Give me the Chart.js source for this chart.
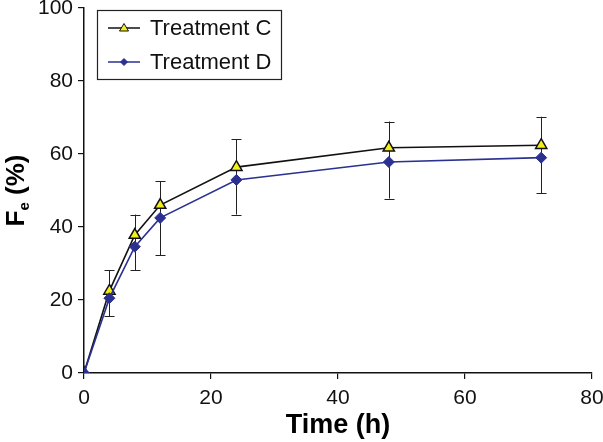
<!DOCTYPE html>
<html>
<head>
<meta charset="utf-8">
<script src="https://cdn.jsdelivr.net/npm/chart.js@4"></script>
<style>
  html, body { margin: 0; padding: 0; background: #fff; }
  #wrap { position: relative; width: 603px; height: 442px; }
</style>
</head>
<body>
<div id="wrap"><canvas id="chart" width="603" height="442"></canvas></div>
<script>
// sampling times (h)
const times = [0, 4, 8, 12, 24, 48, 72];
// Fe (%) per treatment
const treatmentC = [0, 22.5, 37.8, 46.0, 56.4, 61.7, 62.4];
const treatmentD = [0, 20.5, 34.6, 42.5, 52.9, 57.8, 59.0];
// error bars: upward for C, downward for D
const errC = [0, 5.7, 5.6, 6.5, 7.6, 7.2, 7.8];
const errD = [0, 4.9, 6.4, 10.3, 9.5, 10.0, 9.8];
const xTicks = [0, 20, 40, 60, 80];
const yTicks = [0, 20, 40, 60, 80, 100];

const navy = '#2b3190';
const FONT = 'Arial, "Liberation Sans", sans-serif';

const errorBars = {
  id: 'errorBars',
  beforeDatasetsDraw(chart) {
    const { ctx, scales: { x, y } } = chart;
    ctx.save();
    ctx.strokeStyle = '#222';
    ctx.lineWidth = 1;
    times.forEach((t, i) => {
      if (!errC[i] && !errD[i]) return;
      const px = Math.round(x.getPixelForValue(t)) + 0.5;
      const top = y.getPixelForValue(treatmentC[i] + errC[i]);
      const bot = y.getPixelForValue(treatmentD[i] - errD[i]);
      ctx.beginPath();
      ctx.moveTo(px, top); ctx.lineTo(px, bot);
      ctx.moveTo(px - 5, Math.round(top) + 0.5); ctx.lineTo(px + 5, Math.round(top) + 0.5);
      ctx.moveTo(px - 5, Math.round(bot) + 0.5); ctx.lineTo(px + 5, Math.round(bot) + 0.5);
      ctx.stroke();
    });
    ctx.restore();
  }
};

const titles = {
  id: 'titles',
  afterDraw(chart) {
    const { ctx, chartArea } = chart;
    ctx.save();
    ctx.fillStyle = '#000';
    // x title
    ctx.font = 'bold 27px ' + FONT;
    ctx.textAlign = 'center';
    ctx.textBaseline = 'middle';
    ctx.fillText('Time (h)', (chartArea.left + chartArea.right) / 2, 426);
    // y title with subscript
    ctx.translate(15, (chartArea.top + chartArea.bottom) / 2);
    ctx.rotate(-Math.PI / 2);
    ctx.textAlign = 'left';
    ctx.textBaseline = 'alphabetic';
    const big = 'bold 26px ' + FONT, small = 'bold 15px ' + FONT;
    ctx.font = big; const wF = ctx.measureText('F').width;
    ctx.font = small; const wE = ctx.measureText('e').width;
    ctx.font = big; const wR = ctx.measureText(' (%)').width;
    let sx = -(wF + wE + wR) / 2;
    const base = 9;
    ctx.font = big; ctx.fillText('F', sx, base); sx += wF;
    ctx.font = small; ctx.fillText('e', sx, base + 5); sx += wE;
    ctx.font = big; ctx.fillText(' (%)', sx, base);
    ctx.restore();

    // legend box
    ctx.save();
    ctx.strokeStyle = '#222';
    ctx.lineWidth = 1.2;
    ctx.strokeRect(97.5, 10.5, 184, 69);
    ctx.font = '22px ' + FONT;
    ctx.textBaseline = 'middle';
    chart.data.datasets.slice().sort((a, b) => a.legendRow - b.legendRow).forEach((ds) => {
      const ly = ds.legendRow === 0 ? 28 : 62;
      ctx.strokeStyle = ds.borderColor;
      ctx.lineWidth = 1.5;
      ctx.beginPath(); ctx.moveTo(108, ly); ctx.lineTo(140, ly); ctx.stroke();
      ctx.fillStyle = ds.pointBackgroundColor;
      ctx.strokeStyle = ds.pointBorderColor;
      ctx.lineWidth = 1;
      ctx.beginPath();
      if (ds.pointStyle === 'triangle') {
        ctx.moveTo(124, ly - 4.5); ctx.lineTo(128.5, ly + 3); ctx.lineTo(119.5, ly + 3); ctx.closePath();
      } else {
        ctx.moveTo(124, ly - 3.5); ctx.lineTo(127.5, ly); ctx.lineTo(124, ly + 3.5); ctx.lineTo(120.5, ly); ctx.closePath();
      }
      ctx.fill(); ctx.stroke();
      ctx.fillStyle = '#111';
      ctx.fillText(ds.label, 150, ly + 1);
    });
    ctx.restore();
  }
};

new Chart(document.getElementById('chart'), {
  type: 'line',
  data: {
    datasets: [
      {
        label: 'Treatment D',
        legendRow: 1,
        order: 0,
        data: times.map((t, i) => ({ x: t, y: treatmentD[i] })),
        borderColor: navy,
        borderWidth: 1.6,
        pointStyle: 'rectRot',
        pointRadius: 5.5,
        pointBackgroundColor: navy,
        pointBorderColor: navy,
        pointBorderWidth: 1,
        tension: 0
      },
      {
        label: 'Treatment C',
        legendRow: 0,
        order: 1,
        data: times.map((t, i) => ({ x: t, y: treatmentC[i] })),
        borderColor: '#111',
        borderWidth: 1.6,
        pointStyle: 'triangle',
        pointRadius: 6.5,
        pointBackgroundColor: '#f2ef1a',
        pointBorderColor: '#111',
        pointBorderWidth: 1.5,
        tension: 0
      }
    ]
  },
  options: {
    responsive: false,
    animation: false,
    layout: { padding: { top: 7, right: 11, left: 0, bottom: 0 } },
    plugins: { legend: { display: false }, tooltip: { enabled: false } },
    scales: {
      x: {
        type: 'linear',
        min: 0, max: 80,
        afterBuildTicks: (s) => { s.ticks = xTicks.map((v) => ({ value: v })); },
        afterFit: (s) => { s.height = 69; s.paddingLeft = 0; s.paddingRight = 0; },
        border: { color: '#111', width: 1.5 },
        grid: { drawOnChartArea: false, drawTicks: true, tickLength: 6, color: '#111', lineWidth: 1.2 },
        ticks: { color: '#111', font: { family: FONT, size: 21 }, padding: 7, maxRotation: 0 }
      },
      y: {
        min: 0, max: 100,
        afterBuildTicks: (s) => { s.ticks = yTicks.map((v) => ({ value: v })); },
        afterFit: (s) => { s.width = 84; s.paddingTop = 0; s.paddingBottom = 0; },
        border: { color: '#111', width: 1.5 },
        grid: { drawOnChartArea: false, drawTicks: true, tickLength: 6, color: '#111', lineWidth: 1.2 },
        ticks: { color: '#111', font: { family: FONT, size: 21 }, padding: 5 }
      }
    }
  },
  plugins: [errorBars, titles]
});
</script>
</body>
</html>
